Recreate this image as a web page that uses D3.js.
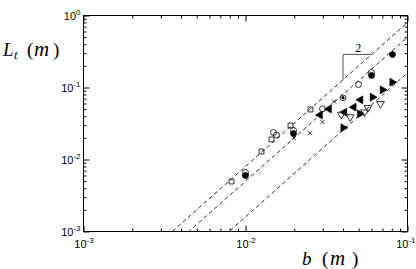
<!DOCTYPE html>
<html><head><meta charset="utf-8">
<script src="https://cdn.jsdelivr.net/npm/d3@7"></script>
<style>body{margin:0;background:#fff}svg{display:block}</style>
</head><body>
<svg id="c" width="416" height="269"></svg>
<script>
// ---- data ----
const xMajor = [1e-3, 1e-2, 1e-1];
const xExp = ["-3", "-2", "-1"];
const yMajor = [1e-3, 1e-2, 1e-1, 1];
const yExp = ["-3", "-2", "-1", "0"];
const lineCoef = [80, 50, 16];      // L = C * b^2
const slopeB = [0.04, 0.06];        // slope triangle extent
const slopeLabel = "2";

const squares = [[0.0082,0.00495],[0.01256,0.0129],[0.01447,0.019],[0.01896,0.0297],[0.02518,0.0495]];
const openCircles = [[0.01,0.0066],[0.01489,0.0237],[0.01553,0.0219],[0.01978,0.0253],[0.02987,0.0506],[0.0498,0.110],[0.06,0.1616]];
const filledCircles = [[0.01,0.006],[0.01978,0.0229],[0.06,0.1468],[0.0808,0.2874]];
const dotCircles = [[0.04,0.0719]];
const crosses = [[0.01987,0.0199],[0.025,0.0232],[0.0299,0.0332],[0.03518,0.0639]];
const leftTri = [[0.03276,0.0503],[0.02884,0.0415],[0.0408,0.0454],[0.0466,0.0533],[0.0513,0.0675]];
const rightTri = [[0.0804,0.1185],[0.0701,0.0929],[0.0608,0.0733],[0.0508,0.0431],[0.0401,0.0276]];
const downTri = [[0.039,0.0422],[0.0443,0.0389],[0.0543,0.0454],[0.0569,0.0522],[0.0681,0.0594]];

// ---- chart ----
const svg = d3.select('#c');
const x = d3.scaleLog().domain([1e-3, 1e-1]).range([83.5, 407.5]);
const y = d3.scaleLog().domain([1e-3, 1]).range([231.5, 15.5]);
const isMinor = v => Math.abs(Math.log10(v) - Math.round(Math.log10(v))) > 1e-6;
const xMinor = x.ticks().filter(isMinor);
const yMinor = y.ticks().filter(isMinor);
const [x0, x1] = x.range(), [y0, y1] = y.range();

svg.append('defs').append('clipPath').attr('id', 'clip')
  .append('rect').attr('x', x0).attr('y', y1).attr('width', x1 - x0).attr('height', y0 - y1);

function supLabels(g, exps) {
  g.selectAll('.tick text').each(function(d, i) {
    const t = d3.select(this);
    t.text(null);
    t.append('tspan').text('10');
    t.append('tspan').attr('font-size', 8).attr('dy', -5).text(exps[i]);
  });
}
function styleAxis(g) {
  g.select('.domain').remove();
  g.selectAll('.tick line').attr('stroke', '#000').attr('stroke-width', 1);
  g.attr('font-family', '"Liberation Sans", Arial, sans-serif').attr('font-size', 11);
}

// bottom
let g = svg.append('g').attr('transform', `translate(0,${y0})`)
  .call(d3.axisBottom(x).tickValues(xMajor).tickSize(-6).tickPadding(9).tickFormat(() => 'x'));
styleAxis(g); supLabels(g, xExp);
// keep the last label inside the window
g.selectAll('.tick text').filter((d, i) => i === xMajor.length - 1).attr('text-anchor', 'end').attr('x', 415 - x1);
g = svg.append('g').attr('transform', `translate(0,${y0})`)
  .call(d3.axisBottom(x).tickValues(xMinor).tickSize(-3).tickFormat(''));
styleAxis(g);
// top
g = svg.append('g').attr('transform', `translate(0,${y1})`)
  .call(d3.axisTop(x).tickValues(xMajor).tickSize(-6).tickFormat('')); styleAxis(g);
g = svg.append('g').attr('transform', `translate(0,${y1})`)
  .call(d3.axisTop(x).tickValues(xMinor).tickSize(-3).tickFormat('')); styleAxis(g);
// left
g = svg.append('g').attr('transform', `translate(${x0},0)`)
  .call(d3.axisLeft(y).tickValues(yMajor).tickSize(-6).tickPadding(3).tickFormat(() => 'x'));
styleAxis(g); g.selectAll('.tick text').attr('dy', '0.36em'); supLabels(g, yExp);
g = svg.append('g').attr('transform', `translate(${x0},0)`)
  .call(d3.axisLeft(y).tickValues(yMinor).tickSize(-3).tickFormat('')); styleAxis(g);
// right
g = svg.append('g').attr('transform', `translate(${x1},0)`)
  .call(d3.axisRight(y).tickValues(yMajor).tickSize(-6).tickFormat('')); styleAxis(g);
g = svg.append('g').attr('transform', `translate(${x1},0)`)
  .call(d3.axisRight(y).tickValues(yMinor).tickSize(-3).tickFormat('')); styleAxis(g);

// frame
svg.append('rect').attr('x', x0).attr('y', y1).attr('width', x1 - x0).attr('height', y0 - y1)
  .attr('fill', 'none').attr('stroke', '#000').attr('stroke-width', 1);

// dashed power-law lines
const plot = svg.append('g').attr('clip-path', 'url(#clip)');
const lineGen = d3.line().x(d => x(d[0])).y(d => y(d[1]));
lineCoef.forEach(C => {
  const pts = [1e-3, 1e-1].map(b => [b, C * b * b]);
  plot.append('path').attr('d', lineGen(pts)).attr('fill', 'none')
    .attr('stroke', '#111').attr('stroke-width', 0.9).attr('stroke-dasharray', '4,3');
});

// slope triangle
const Ctri = lineCoef[0];
const tri = [[slopeB[0], Ctri * slopeB[0] ** 2], [slopeB[0], Ctri * slopeB[1] ** 2], [slopeB[1], Ctri * slopeB[1] ** 2]];
svg.append('path').attr('d', lineGen(tri)).attr('fill', 'none').attr('stroke', '#555').attr('stroke-width', 1);
svg.append('text').attr('x', x(Math.sqrt(slopeB[0] * slopeB[1])) + 1).attr('y', y(tri[2][1]) - 2)
  .attr('text-anchor', 'middle').attr('font-family', '"Liberation Serif", "Times New Roman", serif')
  .attr('font-size', 12).text(slopeLabel);

// markers
const sw = 0.8;
function sym(data, type, size, rot, fill) {
  plot.selectAll(null).data(data).enter().append('path')
    .attr('d', d3.symbol().type(type).size(size))
    .attr('transform', d => `translate(${x(d[0])},${y(d[1])}) rotate(${rot})`)
    .attr('fill', fill ? '#000' : 'none').attr('stroke', '#000').attr('stroke-width', sw);
}
sym(squares, d3.symbolSquare, 24, 0, false);
sym(openCircles, d3.symbolCircle, 28, 0, false);
sym(filledCircles, d3.symbolCircle, 28, 0, true);
sym(dotCircles, d3.symbolCircle, 28, 0, false);
sym(dotCircles, d3.symbolCircle, 5, 0, true);
sym(leftTri, d3.symbolTriangle, 26, -90, true);
sym(rightTri, d3.symbolTriangle, 26, 90, true);
sym(downTri, d3.symbolTriangle, 26, 180, false);
plot.selectAll(null).data(crosses).enter().append('path')
  .attr('d', 'M-2,-2L2,2M-2,2L2,-2')
  .attr('transform', d => `translate(${x(d[0])},${y(d[1])})`)
  .attr('stroke', '#000').attr('stroke-width', sw);

// axis titles
const serif = '"Liberation Serif", "Times New Roman", serif';
const xt = svg.append('text').attr('y', 265).attr('font-family', serif).attr('font-size', 19);
xt.append('tspan').attr('x', 302).attr('font-style', 'italic').text('b');
xt.append('tspan').attr('x', 322).text('(');
xt.append('tspan').attr('x', 330).attr('font-style', 'italic').attr('font-size', 21).text('m');
xt.append('tspan').attr('x', 352).text(')');

const yt = svg.append('text').attr('y', 56).attr('font-family', serif).attr('font-size', 19);
yt.append('tspan').attr('x', 3).attr('font-style', 'italic').text('L');
yt.append('tspan').attr('x', 14).attr('font-style', 'italic').attr('font-size', 13).attr('dy', 3).text('t');
yt.append('tspan').attr('x', 27).attr('dy', -3).text('(');
yt.append('tspan').attr('x', 34).attr('font-style', 'italic').attr('font-size', 21).text('m');
yt.append('tspan').attr('x', 53).text(')');
</script>
</body></html>
